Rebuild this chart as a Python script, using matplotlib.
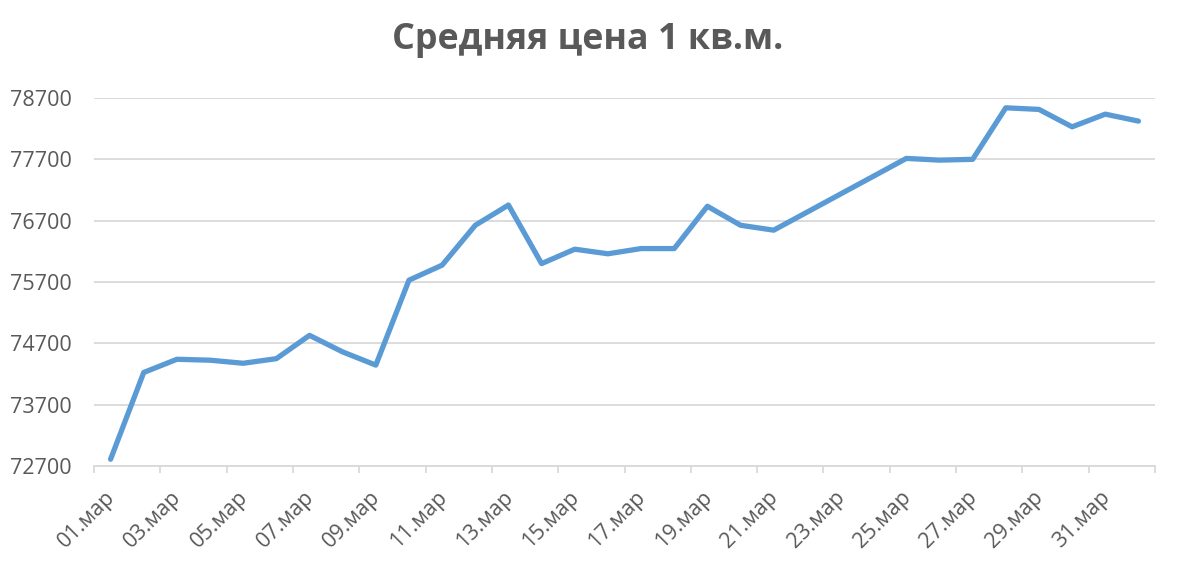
import matplotlib
matplotlib.use("Agg")
import matplotlib.pyplot as plt
import matplotlib.transforms as mtransforms
from matplotlib.ticker import FixedLocator, NullFormatter

plt.rcParams['font.family'] = ['Open Sans', 'DejaVu Sans']

days = [f"{d:02d}.мар" for d in range(1, 32)] + ["01.апр"]
prices = [72810, 74225, 74440, 74425, 74375, 74450, 74830, 74560, 74345,
          75730, 75975, 76625, 76955, 76000, 76235, 76160, 76245, 76245,
          76935, 76625, 76545, 76837, 77130, 77422, 77715, 77687, 77700,
          78540, 78514, 78230, 78437, 78323]
yticks = [72700, 73700, 74700, 75700, 76700, 77700, 78700]

text_col = '#595959'
grid_col = '#D9D9D9'
line_col = '#5B9BD5'

fig = plt.figure(figsize=(11.77, 5.61), dpi=100)
ax = fig.add_axes([94/1177, 1 - 466/561, (1155 - 94)/1177, (466 - 98)/561])

x = list(range(len(prices)))
ax.plot(x, prices, color=line_col, linewidth=3.8, solid_capstyle='round',
        solid_joinstyle='round', zorder=3)

ax.set_xlim(-0.5, len(prices) - 0.5)
ax.set_ylim(yticks[0], yticks[-1])
ax.set_yticks(yticks)
ax.set_yticklabels([str(v) for v in yticks])

lab_pos = x[::2]
ax.set_xticks(lab_pos)
ax.set_xticklabels([days[i] for i in lab_pos], rotation=45, ha='right',
                   rotation_mode='anchor')
ax.xaxis.set_minor_locator(FixedLocator([p - 0.5 for p in range(0, len(prices) + 1, 2)]))
ax.xaxis.set_minor_formatter(NullFormatter())

ax.tick_params(axis='x', which='major', length=0, pad=15, labelsize=15.5, labelcolor=text_col)
ax.tick_params(axis='x', which='minor', length=5, width=1.3, color=grid_col)
ax.tick_params(axis='y', length=0, pad=16, labelsize=15.5, labelcolor=text_col)

offset = mtransforms.ScaledTranslation(-6/100, 0, fig.dpi_scale_trans)
for lbl in ax.get_xticklabels():
    lbl.set_transform(lbl.get_transform() + offset)

ax.grid(axis='y', color=grid_col, linewidth=1.3, zorder=0)
for s in ['top', 'right', 'left']:
    ax.spines[s].set_visible(False)
ax.spines['bottom'].set_color(grid_col)
ax.spines['bottom'].set_linewidth(1.3)
ax.spines['bottom'].set_zorder(1)

fig.text(588/1177, 1 - 40/561, "Средняя цена 1 кв.м.", ha='center', va='center',
         fontsize=25.8, fontweight='bold', color=text_col)

fig.savefig("out.png", dpi=100)
